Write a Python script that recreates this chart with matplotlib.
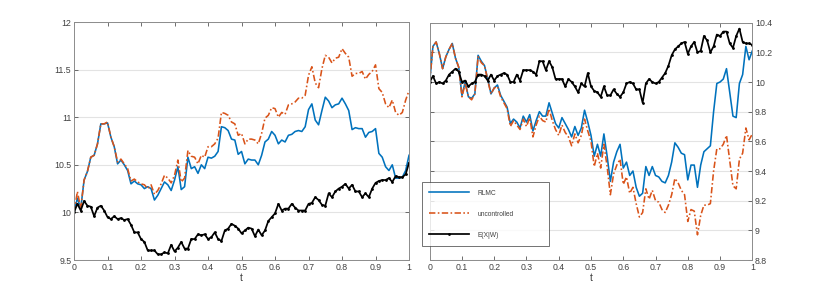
import numpy as np
import matplotlib
matplotlib.use("Agg")
import matplotlib.pyplot as plt

t = np.round(np.linspace(0, 1, 101), 2)

# Left panel
left_rlmc = [10.00, 10.15, 10.04, 10.34, 10.43, 10.58, 10.60, 10.72, 10.93, 10.93,
             10.94, 10.79, 10.69, 10.51, 10.55, 10.50, 10.44, 10.30, 10.33, 10.30,
             10.29, 10.25, 10.27, 10.25, 10.13, 10.18, 10.25, 10.32, 10.29, 10.23,
             10.34, 10.48, 10.24, 10.27, 10.58, 10.46, 10.48, 10.41, 10.50, 10.46,
             10.58, 10.57, 10.59, 10.64, 10.90, 10.89, 10.86, 10.77, 10.76, 10.61,
             10.64, 10.51, 10.56, 10.55, 10.55, 10.50, 10.60, 10.74, 10.77, 10.85,
             10.81, 10.72, 10.76, 10.74, 10.81, 10.82, 10.85, 10.86, 10.85, 10.90,
             11.08, 11.14, 10.97, 10.92, 11.07, 11.21, 11.17, 11.10, 11.13, 11.14,
             11.20, 11.14, 11.07, 10.87, 10.89, 10.88, 10.88, 10.79, 10.84, 10.85,
             10.88, 10.62, 10.58, 10.48, 10.44, 10.50, 10.36, 10.36, 10.37, 10.44,
             10.60]
left_unc = [10.00, 10.22, 10.04, 10.34, 10.43, 10.58, 10.60, 10.72, 10.93, 10.93,
            10.95, 10.79, 10.69, 10.53, 10.56, 10.51, 10.46, 10.33, 10.35, 10.32,
            10.30, 10.29, 10.25, 10.29, 10.19, 10.23, 10.30, 10.39, 10.36, 10.31,
            10.39, 10.55, 10.32, 10.36, 10.65, 10.59, 10.58, 10.51, 10.60, 10.58,
            10.69, 10.69, 10.72, 10.78, 11.05, 11.04, 11.02, 10.95, 10.93, 10.81,
            10.83, 10.72, 10.77, 10.77, 10.76, 10.72, 10.83, 10.99, 11.02, 11.10,
            11.09, 11.00, 11.05, 11.03, 11.13, 11.14, 11.16, 11.20, 11.20, 11.23,
            11.44, 11.53, 11.36, 11.31, 11.51, 11.65, 11.63, 11.57, 11.62, 11.63,
            11.72, 11.67, 11.63, 11.43, 11.46, 11.46, 11.48, 11.40, 11.45, 11.48,
            11.55, 11.30, 11.26, 11.14, 11.10, 11.18, 11.05, 11.02, 11.05, 11.18,
            11.28]
left_exp = [10.00, 10.09, 10.02, 10.12, 10.07, 10.06, 9.96, 10.05, 10.07, 10.02,
            9.95, 9.93, 9.96, 9.93, 9.94, 9.92, 9.93, 9.87, 9.79, 9.79,
            9.72, 9.69, 9.60, 9.60, 9.60, 9.56, 9.56, 9.58, 9.57, 9.66,
            9.59, 9.63, 9.69, 9.62, 9.62, 9.72, 9.72, 9.77, 9.76, 9.77,
            9.72, 9.74, 9.79, 9.72, 9.70, 9.81, 9.83, 9.88, 9.86, 9.83,
            9.78, 9.81, 9.84, 9.83, 9.75, 9.82, 9.76, 9.81, 9.91, 9.95,
            9.99, 10.09, 10.02, 10.04, 10.04, 10.09, 10.05, 10.02, 10.02, 10.02,
            10.09, 10.10, 10.16, 10.13, 10.08, 10.07, 10.20, 10.16, 10.22, 10.25,
            10.27, 10.30, 10.25, 10.29, 10.22, 10.22, 10.16, 10.20, 10.16, 10.25,
            10.31, 10.33, 10.34, 10.34, 10.36, 10.32, 10.38, 10.37, 10.37, 10.40,
            10.52]

# Right panel
right_rlmc = [10.00, 10.24, 10.27, 10.19, 10.09, 10.17, 10.22, 10.26, 10.16, 10.10,
              9.91, 10.00, 9.90, 9.89, 9.92, 10.18, 10.14, 10.11, 10.02, 9.92,
              9.96, 9.98, 9.91, 9.87, 9.83, 9.72, 9.75, 9.73, 9.69, 9.77,
              9.73, 9.78, 9.67, 9.74, 9.80, 9.77, 9.77, 9.86, 9.79, 9.72,
              9.69, 9.76, 9.72, 9.68, 9.63, 9.70, 9.64, 9.69, 9.81, 9.73,
              9.64, 9.50, 9.58, 9.50, 9.65, 9.50, 9.33, 9.46, 9.53, 9.58,
              9.42, 9.46, 9.37, 9.40, 9.29, 9.23, 9.25, 9.43, 9.37, 9.43,
              9.37, 9.36, 9.33, 9.32, 9.37, 9.46, 9.59, 9.56, 9.52, 9.51,
              9.34, 9.44, 9.44, 9.29, 9.44, 9.53, 9.55, 9.57, 9.80, 9.99,
              10.00, 10.02, 10.09, 9.93, 9.77, 9.76, 9.99, 10.05, 10.24, 10.15,
              10.21]
right_unc = [10.00, 10.24, 10.27, 10.19, 10.09, 10.17, 10.22, 10.26, 10.16, 10.10,
             9.90, 9.99, 9.90, 9.88, 9.92, 10.17, 10.13, 10.11, 10.01, 9.92,
             9.96, 9.97, 9.90, 9.86, 9.82, 9.70, 9.74, 9.71, 9.68, 9.75,
             9.70, 9.76, 9.63, 9.71, 9.77, 9.74, 9.73, 9.82, 9.74, 9.68,
             9.64, 9.71, 9.66, 9.63, 9.57, 9.65, 9.59, 9.64, 9.75, 9.67,
             9.60, 9.43, 9.52, 9.42, 9.58, 9.43, 9.24, 9.38, 9.44, 9.48,
             9.31, 9.36, 9.25, 9.29, 9.18, 9.09, 9.12, 9.28, 9.21, 9.27,
             9.20, 9.19, 9.14, 9.12, 9.17, 9.24, 9.35, 9.32, 9.27, 9.24,
             9.06, 9.14, 9.13, 8.97, 9.10, 9.17, 9.17, 9.18, 9.40, 9.55,
             9.55, 9.58, 9.64, 9.47, 9.30, 9.28, 9.48, 9.52, 9.69, 9.61,
             9.65]
right_exp = [10.00, 10.04, 9.99, 10.00, 9.99, 10.01, 10.05, 10.07, 10.09, 10.07,
             10.00, 10.01, 9.97, 9.99, 10.00, 10.05, 10.05, 10.04, 10.01, 10.05,
             10.01, 10.04, 10.05, 10.06, 10.05, 10.00, 10.00, 10.05, 10.01, 10.08,
             10.08, 10.08, 10.07, 10.05, 10.14, 10.14, 10.08, 10.14, 10.10, 10.02,
             10.02, 10.02, 9.97, 10.02, 10.00, 9.97, 9.93, 9.99, 9.97, 10.06,
             9.97, 9.94, 9.93, 9.90, 9.97, 9.91, 9.91, 9.95, 9.92, 9.90,
             9.93, 9.99, 10.00, 9.99, 9.95, 9.95, 9.86, 9.99, 10.02, 10.00,
             9.99, 10.00, 10.03, 10.06, 10.11, 10.18, 10.22, 10.24, 10.26, 10.27,
             10.19, 10.24, 10.27, 10.20, 10.21, 10.31, 10.28, 10.20, 10.24, 10.32,
             10.31, 10.34, 10.34, 10.26, 10.23, 10.31, 10.36, 10.27, 10.26, 10.26,
             10.25]

labels = ["RLMC", "uncontrolled", "E(X|W)"]
xticks = [0, 0.1, 0.2, 0.3, 0.4, 0.5, 0.6, 0.7, 0.8, 0.9, 1]
xticklabels = ["0", "0.1", "0.2", "0.3", "0.4", "0.5", "0.6", "0.7", "0.8", "0.9", "1"]
left_yticks = [9.5, 10, 10.5, 11, 11.5, 12]
left_yticklabels = ["9.5", "10", "10.5", "11", "11.5", "12"]
right_yticks = [8.8, 9, 9.2, 9.4, 9.6, 9.8, 10, 10.2, 10.4]
right_yticklabels = ["8.8", "9", "9.2", "9.4", "9.6", "9.8", "10", "10.2", "10.4"]

plt.rcParams['font.family'] = ['Liberation Sans', 'DejaVu Sans']

BLUE = "#0072BD"
ORANGE = "#D95319"
TXT = "#404040"
AXC = "#555555"

fig = plt.figure(figsize=(8.3, 2.93), dpi=100)
ax1 = fig.add_axes([0.0892, 0.1126, 0.4036, 0.8123])
ax2 = fig.add_axes([0.5177, 0.1126, 0.3887, 0.8100])


def draw(ax, rl, un, ex):
    l1, = ax.plot(t, rl, color=BLUE, lw=1.15, label=labels[0])
    l2, = ax.plot(t, un, color=ORANGE, lw=1.15, ls=(0, (4, 1.5, 1, 1.5)), label=labels[1])
    l3, = ax.plot(t, ex, color="black", lw=1.25, marker=".", ms=2.0, label=labels[2])
    return [l1, l2, l3]


def style(ax, yt, ytl, ylim, right=False):
    ax.set_xlim(0, 1)
    ax.set_ylim(*ylim)
    ax.set_xticks(xticks)
    ax.set_xticklabels(xticklabels)
    ax.set_yticks(yt)
    ax.set_yticklabels(ytl)
    ax.yaxis.grid(True, color="#e3e3e3", lw=0.8)
    ax.set_axisbelow(True)
    ax.tick_params(direction="in", length=3, width=0.6, colors=AXC,
                   labelcolor=TXT, labelsize=6.3, top=True, right=True, pad=2)
    if right:
        ax.yaxis.tick_right()
        ax.tick_params(axis="y", left=True, right=True, direction="in")
    for s in ax.spines.values():
        s.set_color("#8c8c8c")
        s.set_linewidth(0.7)
    ax.set_xlabel("t", fontsize=7.5, color=TXT, labelpad=1)


draw(ax1, left_rlmc, left_unc, left_exp)
style(ax1, left_yticks, left_yticklabels, (9.5, 12))
handles = draw(ax2, right_rlmc, right_unc, right_exp)
style(ax2, right_yticks, right_yticklabels, (8.8, 10.4), right=True)

leg = ax2.legend(handles=handles, loc="lower left",
                 bbox_to_anchor=(-0.024, 0.059, 0.394, 0.253), mode="expand",
                 borderaxespad=0, fontsize=4.8, handlelength=6.0, handletextpad=1.2,
                 labelspacing=2.1, borderpad=1.1, frameon=True, fancybox=False)
leg.get_frame().set_edgecolor("#333333")
leg.get_frame().set_linewidth(0.6)
for txt in leg.get_texts():
    txt.set_color(TXT)

fig.savefig("out.png", dpi=100)
